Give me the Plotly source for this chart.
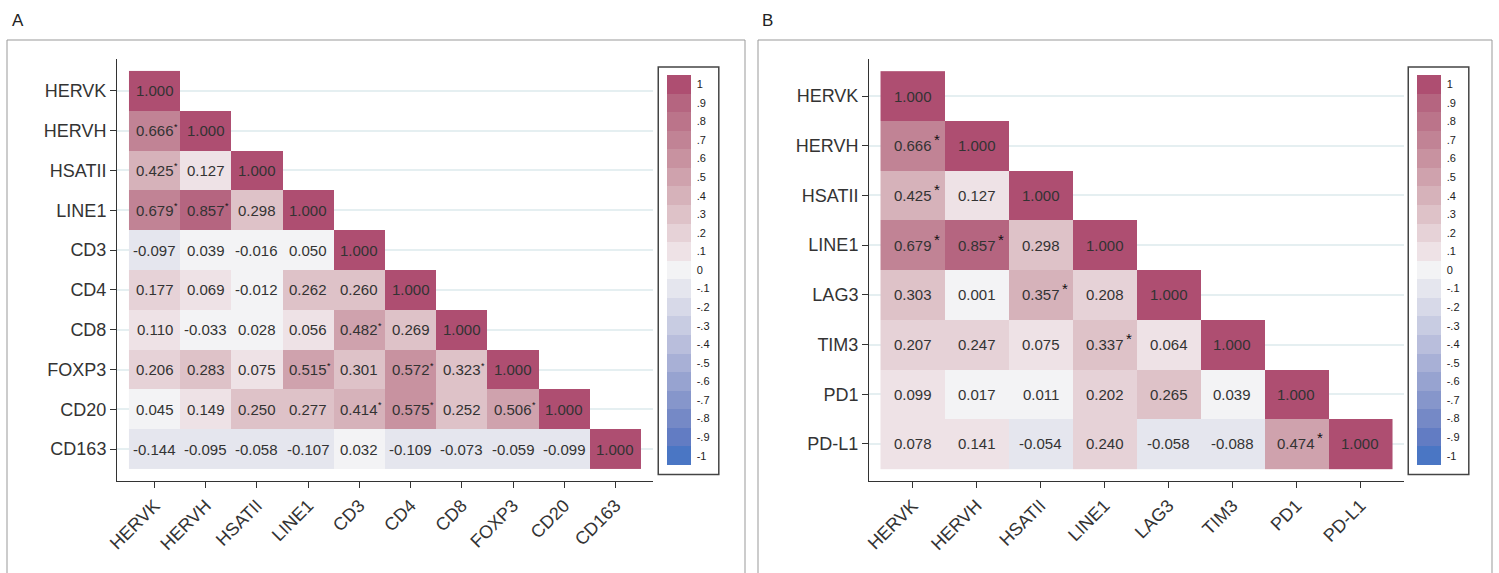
import plotly.graph_objects as go

W, H = 1499, 573

# ---------------- DATA ----------------
labels_a = ["HERVK", "HERVH", "HSATII", "LINE1", "CD3", "CD4", "CD8", "FOXP3", "CD20", "CD163"]
rows_a = [
    [1.000],
    [0.666, 1.000],
    [0.425, 0.127, 1.000],
    [0.679, 0.857, 0.298, 1.000],
    [-0.097, 0.039, -0.016, 0.050, 1.000],
    [0.177, 0.069, -0.012, 0.262, 0.260, 1.000],
    [0.110, -0.033, 0.028, 0.056, 0.482, 0.269, 1.000],
    [0.206, 0.283, 0.075, 0.515, 0.301, 0.572, 0.323, 1.000],
    [0.045, 0.149, 0.250, 0.277, 0.414, 0.575, 0.252, 0.506, 1.000],
    [-0.144, -0.095, -0.058, -0.107, 0.032, -0.109, -0.073, -0.059, -0.099, 1.000],
]
sig_a = [(1, 0), (2, 0), (3, 0), (3, 1), (6, 4), (7, 3), (7, 5), (7, 6), (8, 4), (8, 5), (8, 7)]

labels_b = ["HERVK", "HERVH", "HSATII", "LINE1", "LAG3", "TIM3", "PD1", "PD-L1"]
rows_b = [
    [1.000],
    [0.666, 1.000],
    [0.425, 0.127, 1.000],
    [0.679, 0.857, 0.298, 1.000],
    [0.303, 0.001, 0.357, 0.208, 1.000],
    [0.207, 0.247, 0.075, 0.337, 0.064, 1.000],
    [0.099, 0.017, 0.011, 0.202, 0.265, 0.039, 1.000],
    [0.078, 0.141, -0.054, 0.240, -0.058, -0.088, 0.474, 1.000],
]
sig_b = [(1, 0), (2, 0), (3, 0), (3, 1), (4, 2), (5, 3), (7, 6)]

cb_vals = [1, 0.9, 0.8, 0.7, 0.6, 0.5, 0.4, 0.3, 0.2, 0.1, 0,
           -0.1, -0.2, -0.3, -0.4, -0.5, -0.6, -0.7, -0.8, -0.9, -1]
cb_text = ["1", ".9", ".8", ".7", ".6", ".5", ".4", ".3", ".2", ".1", "0",
           "-.1", "-.2", "-.3", "-.4", "-.5", "-.6", "-.7", "-.8", "-.9", "-1"]

# ---------------- STYLE ----------------
# colours from -1 (blue) to 1 (magenta), 21 steps
step_colors = [
    (74, 118, 196), (98, 124, 195), (117, 137, 198), (134, 150, 203), (151, 163, 208),
    (168, 176, 214), (185, 190, 220), (200, 204, 226), (215, 217, 232), (229, 230, 238),
    (243, 243, 245),
    (238, 226, 230), (230, 210, 215), (222, 194, 200), (214, 178, 186), (207, 162, 173),
    (200, 146, 160), (193, 131, 149), (187, 116, 138), (181, 101, 128), (174, 78, 113),
]
colorscale = []
n_steps = len(step_colors)
for k, c in enumerate(step_colors):
    col = "rgb(%d,%d,%d)" % c
    colorscale.append([k / n_steps, col])
    colorscale.append([(k + 1) / n_steps, col])

FONT = "Liberation Sans, Arial, sans-serif"
TXT = "#333333"

fig = go.Figure()
annotations = []


def px_x(p):
    return p / W


def px_y(p):
    return 1 - p / H


def add_panel(idx, labels, rows, sig, area, padx, pady, cbbox, star_size, star_dx, star_dy):
    n = len(labels)
    z = [[(rows[i][j] if j <= i else None) for j in range(n)] for i in range(n)]
    xa = "x" if idx == 1 else "x%d" % idx
    ya = "y" if idx == 1 else "y%d" % idx
    cbx0, cby0, cbx1, cby1 = cbbox
    fig.add_trace(go.Heatmap(
        z=z, x=list(range(n)), y=list(range(n)),
        xaxis=xa, yaxis=ya,
        zmin=-1.05, zmax=1.05, colorscale=colorscale,
        hoverongaps=False, xgap=0, ygap=0,
        colorbar=dict(
            x=px_x(cbx0), xanchor="left", y=px_y(cby0), yanchor="top",
            lenmode="pixels", len=cby1 - cby0, thickness=24,
            thicknessmode="pixels", xpad=8, ypad=8,
            outlinewidth=0, borderwidth=1.5, bordercolor="#444444",
            bgcolor="white",
            tickvals=cb_vals, ticktext=cb_text,
            ticks="outside", ticklen=4, tickcolor="rgba(255,255,255,0)",
            tickfont=dict(family=FONT, size=11, color="#222222"),
        ),
    ))
    x0, y0, x1, y1 = area
    axis_common = dict(
        showline=True, linecolor="#333333", linewidth=1, ticks="outside",
        ticklen=6, tickwidth=1, tickcolor="#333333", zeroline=False,
        automargin=False,
        tickfont=dict(family=FONT, size=18, color=TXT),
        tickmode="array", tickvals=list(range(n)), ticktext=labels,
    )
    xkey = "xaxis" if idx == 1 else "xaxis%d" % idx
    ykey = "yaxis" if idx == 1 else "yaxis%d" % idx
    fig.update_layout(**{
        xkey: dict(domain=[px_x(x0), px_x(x1)], anchor=ya,
                   range=[-0.5 - padx, n - 0.5 + padx], showgrid=False,
                   tickangle=-45, **axis_common),
        ykey: dict(domain=[px_y(y1), px_y(y0)], anchor=xa,
                   range=[n - 0.5 + pady, -0.5 - pady], showgrid=True,
                   gridcolor="#E5EFF1", gridwidth=1.5, **axis_common),
    })
    sigset = set(sig)
    for i in range(n):
        for j in range(i + 1):
            v = rows[i][j]
            annotations.append(dict(
                x=j, y=i, xref=xa, yref=ya, text="%.3f" % v, showarrow=False,
                font=dict(family=FONT, size=15, color=TXT),
            ))
            if (i, j) in sigset:
                annotations.append(dict(
                    x=j, y=i, xref=xa, yref=ya, text="*", showarrow=False,
                    xshift=star_dx, yshift=star_dy,
                    font=dict(family=FONT, size=star_size, color="#111111"),
                ))


add_panel(1, labels_a, rows_a, sig_a, (117, 59, 653, 481), 0.234, 0.30,
          (659, 67, 721, 473), 9, 21, 4)
add_panel(2, labels_b, rows_b, sig_b, (869, 59, 1404, 481), 0.18, 0.245,
          (1409, 67, 1470, 473), 15, 24, 6)

# panel letters
for letter, xp in (("A", 10), ("B", 760)):
    annotations.append(dict(
        x=px_x(xp), y=px_y(20), xref="paper", yref="paper", text=letter,
        showarrow=False, xanchor="left", yanchor="middle",
        font=dict(family=FONT, size=17, color="#222222"),
    ))

shapes = []
for (a, b) in ((7, 745), (758, 1492)):
    shapes.append(dict(type="rect", xref="paper", yref="paper",
                       x0=px_x(a), x1=px_x(b), y0=px_y(576), y1=px_y(40),
                       line=dict(color="#999999", width=1), fillcolor="rgba(0,0,0,0)",
                       layer="below"))

fig.update_layout(
    template="none",
    width=W, height=H, margin=dict(l=0, r=0, t=0, b=0, pad=0, autoexpand=False),
    paper_bgcolor="white", plot_bgcolor="white",
    annotations=annotations, shapes=shapes, showlegend=False,
)

fig.write_html("out.html", config={"displayModeBar": False},
               post_script="document.body.style.margin='0';document.body.style.padding='0';")
